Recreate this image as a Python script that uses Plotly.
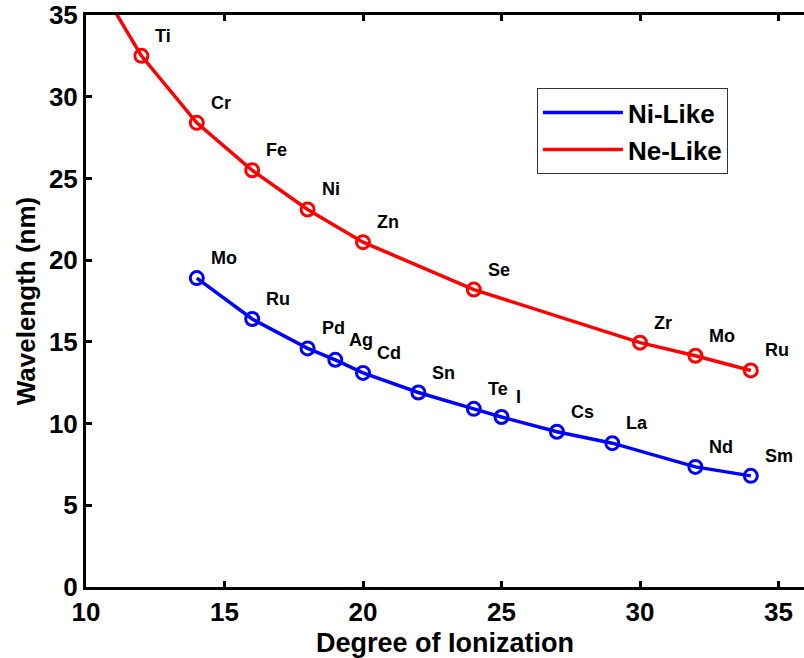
import plotly.graph_objects as go

# Ni-like ions: degree of ionization vs lasing wavelength (nm)
ni_elements = ["Mo", "Ru", "Pd", "Ag", "Cd", "Sn", "Te", "I", "Cs", "La", "Nd", "Sm"]
ni_degree = [14, 16, 18, 19, 20, 22, 24, 25, 27, 29, 32, 34]
ni_wavelength = [18.9, 16.4, 14.6, 13.9, 13.1, 11.9, 10.9, 10.4, 9.5, 8.8, 7.35, 6.8]

# Ne-like ions
ne_elements = ["Ti", "Cr", "Fe", "Ni", "Zn", "Se", "Zr", "Mo", "Ru"]
ne_degree = [12, 14, 16, 18, 20, 24, 30, 32, 34]
ne_wavelength = [32.5, 28.4, 25.5, 23.1, 21.1, 18.2, 14.95, 14.15, 13.25]

# Ne-like curve continues to lower ionization (off the top of the axes)
ne_lead_degree = [10]
ne_lead_wavelength = [38.2]

x_ticks = [10, 15, 20, 25, 30, 35]
y_ticks = [0, 5, 10, 15, 20, 25, 30, 35]

BLUE = "#0000FF"
RED = "#FF0000"
FONT = "Liberation Sans, Arial, sans-serif"

fig = go.Figure()

fig.add_trace(go.Scatter(
    x=ni_degree, y=ni_wavelength, mode="lines", name="Ni-Like",
    line=dict(color=BLUE, width=3.5),
))
fig.add_trace(go.Scatter(
    x=ne_lead_degree + ne_degree, y=ne_lead_wavelength + ne_wavelength,
    mode="lines", name="Ne-Like",
    line=dict(color=RED, width=3.5),
))

for xs, ys, col in [(ni_degree, ni_wavelength, BLUE), (ne_degree, ne_wavelength, RED)]:
    fig.add_trace(go.Scatter(
        x=xs, y=ys, mode="markers", showlegend=False,
        marker=dict(symbol="circle-open", size=13, color=col, line=dict(width=3, color=col)),
    ))

for names, xs, ys in [(ni_elements, ni_degree, ni_wavelength), (ne_elements, ne_degree, ne_wavelength)]:
    for n, x, y in zip(names, xs, ys):
        fig.add_annotation(
            x=x, y=y, text=n, showarrow=False, xanchor="left", yanchor="middle",
            xshift=12, yshift=20,
            font=dict(family=FONT, size=18, color="black", weight="bold"),
        )

axis_font = dict(family=FONT, size=26, color="black", weight="bold")
title_font = dict(family=FONT, size=27, color="black", weight="bold")

# x-axis title placed just under the tick labels
fig.add_annotation(
    x=0.5, y=0, xref="paper", yref="paper", text="Degree of Ionization",
    showarrow=False, xanchor="center", yanchor="middle", yshift=-56,
    font=title_font,
)

fig.update_layout(
    width=804, height=658,
    margin=dict(l=86, r=0, t=15, b=71),
    paper_bgcolor="white", plot_bgcolor="white",
    showlegend=True,
    legend=dict(
        x=0.628, y=0.872, xanchor="left", yanchor="top",
        bgcolor="white", bordercolor="#333333", borderwidth=1,
        font=dict(family=FONT, size=26, color="black", weight="bold"),
        itemwidth=80,
    ),
    xaxis=dict(
        range=[10, 35.92], tickvals=x_ticks, ticks="inside", ticklen=6, tickwidth=3,
        tickcolor="black", showline=True, linecolor="black", linewidth=3, mirror="ticks",
        showgrid=False, zeroline=False, tickfont=axis_font,
    ),
    yaxis=dict(
        range=[0, 35], tickvals=y_ticks, ticks="inside", ticklen=6, tickwidth=3,
        tickcolor="black", showline=True, linecolor="black", linewidth=3, mirror=False,
        showgrid=False, zeroline=False, tickfont=axis_font,
        title=dict(text="Wavelength (nm)", font=axis_font, standoff=6),
    ),
    yaxis2=dict(
        range=[0, 35], tickvals=y_ticks, ticks="inside", ticklen=6, tickwidth=3,
        tickcolor="black", overlaying="y", side="right", showline=False,
        showticklabels=False, showgrid=False, zeroline=False,
    ),
)

fig.write_html("out.html")
